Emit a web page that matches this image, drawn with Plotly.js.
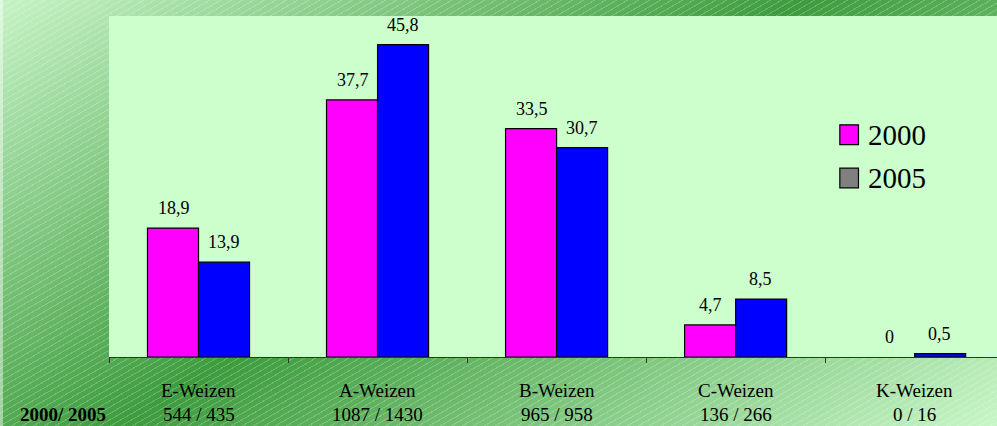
<!DOCTYPE html>
<html>
<head>
<meta charset="utf-8">
<script src="https://cdn.plot.ly/plotly-3.0.1.min.js"></script>
<style>
html, body { margin: 0; padding: 0; }
body {
  width: 997px; height: 426px; overflow: hidden;
  background:
    linear-gradient(to right, rgba(255,255,255,0.45) 0 3px, rgba(255,255,255,0) 3px),
    repeating-linear-gradient(150deg, rgba(255,255,255,0.22) 0 1px, rgba(255,255,255,0) 1px 5.5px),
    linear-gradient(148deg, #c6f3c6 0%, #3d9c3d 48%, #c8f6c8 100%);
}
#chart { width: 997px; height: 426px; }
</style>
</head>
<body>
<div id="chart"></div>
<script>
const categories = ["E-Weizen", "A-Weizen", "B-Weizen", "C-Weizen", "K-Weizen"];
const counts2000 = [544, 1087, 965, 136, 0];
const counts2005 = [435, 1430, 958, 266, 16];
const countsRowLabel = "2000/ 2005";
const seriesNames = ["2000", "2005"];
const values2000 = [18.9, 37.7, 33.5, 4.7, 0];
const values2005 = [13.9, 45.8, 30.7, 8.5, 0.5];

const serif = "Liberation Serif";
const fmt = v => v === 0 ? "0" : v.toFixed(1).replace(".", ",");
const outline = vals => vals.map(v => v === 0 ? 0 : 1.2);

const traces = [
  { type: "bar", name: seriesNames[0], x: categories, y: values2000,
    marker: { color: "#ff00ff", line: { color: "#000", width: outline(values2000) } }, showlegend: false, hoverinfo: "none" },
  { type: "bar", name: seriesNames[1], x: categories, y: values2005,
    marker: { color: "#0000ff", line: { color: "#000", width: outline(values2005) } }, showlegend: false, hoverinfo: "none" }
];

const annotations = [];
[values2000, values2005].forEach((vals, s) => {
  vals.forEach((v, i) => {
    annotations.push({
      x: categories[i], y: v, xref: "x", yref: "y", text: fmt(v), showarrow: false,
      xshift: s === 0 ? -25 : 25, yshift: 20, yanchor: "middle",
      font: { family: serif, size: 18, color: "#000" }
    });
  });
});
categories.forEach((c, i) => {
  annotations.push({ x: c, y: -0.097, xref: "x", yref: "paper", text: c, showarrow: false,
    yanchor: "middle", font: { family: serif, size: 19, color: "#000" } });
  annotations.push({ x: c, y: -0.170, xref: "x", yref: "paper", text: counts2000[i] + " / " + counts2005[i],
    showarrow: false, yanchor: "middle", font: { family: serif, size: 19, color: "#000" } });
});
annotations.push({ x: -0.052, y: -0.170, xref: "paper", yref: "paper", text: "<b>" + countsRowLabel + "</b>",
  showarrow: false, xanchor: "center", yanchor: "middle", font: { family: serif, size: 19, color: "#000" } });

const legendColors = ["#ff00ff", "#808080"];
const legendY = [0.652, 0.525];
const shapes = [];
seriesNames.forEach((n, k) => {
  shapes.push({ type: "rect", xref: "paper", yref: "paper",
    x0: 0.823, x1: 0.844, y0: legendY[k] - 0.029, y1: legendY[k] + 0.029,
    fillcolor: legendColors[k], line: { color: "#000", width: 1.2 } });
  annotations.push({ x: 0.853, y: legendY[k], xref: "paper", yref: "paper", text: n, showarrow: false,
    xanchor: "left", yanchor: "middle", font: { family: serif, size: 29, color: "#000" } });
});

const layout = {
  width: 997, height: 426,
  margin: { l: 109, r: 0, t: 16, b: 69 },
  paper_bgcolor: "rgba(0,0,0,0)",
  plot_bgcolor: "#ccffcc",
  barmode: "group",
  bargap: 0.43,
  bargroupgap: 0,
  showlegend: false,
  xaxis: {
    type: "category", range: [-0.5, 4.46], showticklabels: false,
    ticks: "outside", tickson: "boundaries", ticklen: 5, tickcolor: "#333", tickwidth: 1,
    showline: true, linecolor: "#333", linewidth: 1, showgrid: false, zeroline: false, fixedrange: true
  },
  yaxis: {
    range: [0, 50], visible: false, showgrid: false, zeroline: false, fixedrange: true
  },
  annotations: annotations,
  shapes: shapes
};

Plotly.newPlot("chart", traces, layout, { staticPlot: true });
</script>
</body>
</html>
